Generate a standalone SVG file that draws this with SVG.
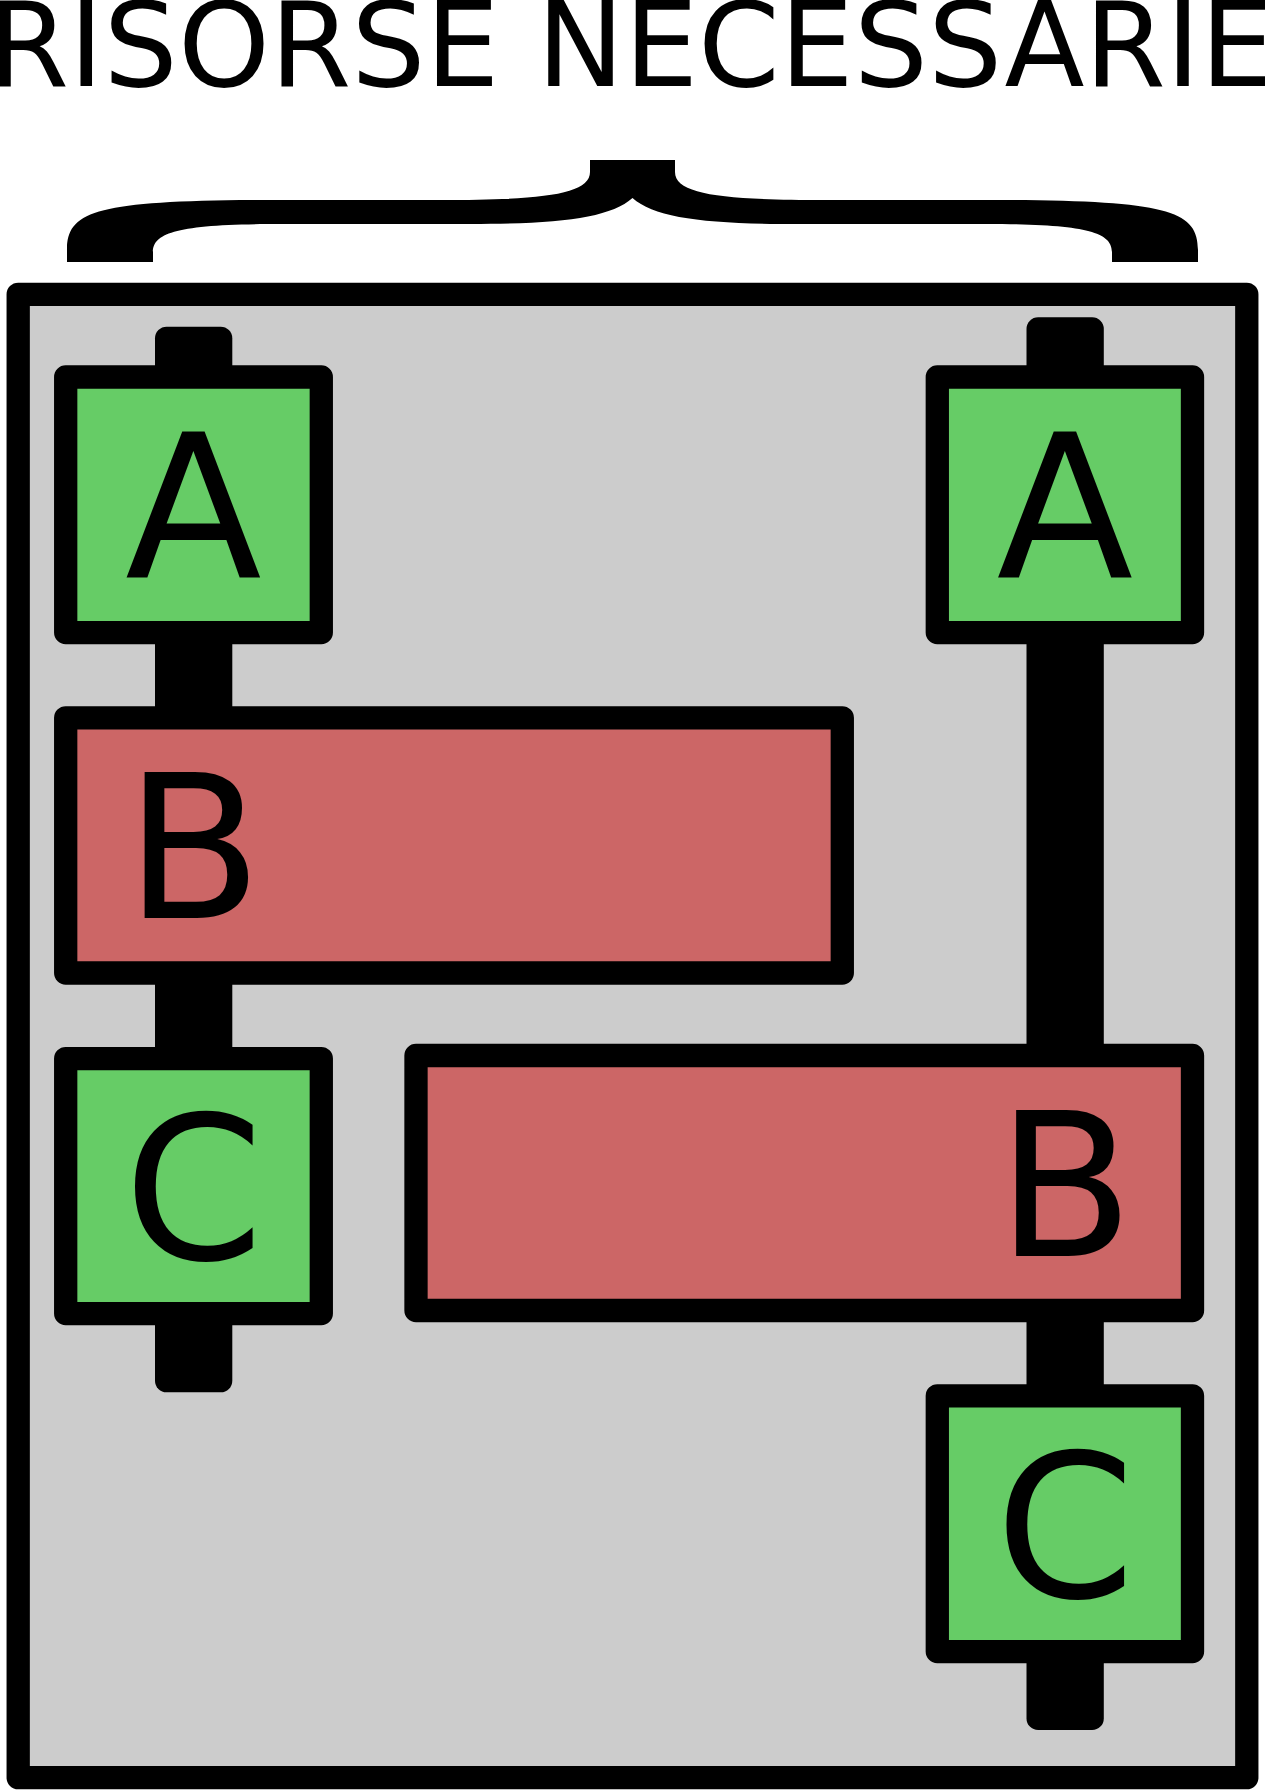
<svg xmlns="http://www.w3.org/2000/svg" width="1265" height="1790" viewBox="0 0 1265 1790">
  <style>
    .frame { fill: #cccccc; stroke: #000000; stroke-width: 23.3; stroke-linejoin: round; }
    .stem { fill: #000000; }
    .res { fill: #66cc66; stroke: #000000; stroke-width: 23.3; stroke-linejoin: round; }
    .bar { fill: #cc6666; stroke: #000000; stroke-width: 23.3; stroke-linejoin: round; }
    .lbl { font-family: "DejaVu Sans", "Liberation Sans", sans-serif; font-size: 200px; fill: #000000; text-anchor: middle; }
    .title { font-family: "DejaVu Sans", "Liberation Sans", sans-serif; font-size: 117px; fill: #000000; text-anchor: middle; }
  </style>
  <rect width="1265" height="1790" fill="#ffffff"/>
  <g id="title">
    <text class="title" x="631" y="86">RISORSE NECESSARIE</text>
  </g>
  <g id="brace">
    <path fill="#000000" d="M 67 262 L 67 250 C 67 212 95 202 240 200 L 440 200 C 540 200 590 195 590 172 L 590 160 L 675 160 L 675 172 C 675 195 725 200 825 200 L 1025 200 C 1170 202 1198 212 1198 250 L 1198 262 L 1112 262 L 1112 252 C 1112 232 1085 224 985 224 L 795 224 C 705 224 655 218 632.5 198 C 610 218 560 224 470 224 L 280 224 C 180 224 153 232 153 252 L 153 262 Z"/>
  </g>
  <g id="frame">
    <rect class="frame" x="18.2" y="294.3" width="1228.6" height="1483.4"/>
  </g>
  <g id="connectors">
    <rect class="stem" x="155" y="326.7" width="77.3" height="1065.6" rx="11.6"/>
    <rect class="stem" x="1026.5" y="317.3" width="77.3" height="1412.7" rx="11.6"/>
  </g>
  <g id="left-A">
    <rect class="res" x="65.7" y="377" width="255.6" height="255.6"/>
    <text class="lbl" x="193.5" y="577.4">A</text>
  </g>
  <g id="left-B">
    <rect class="bar" x="65.7" y="717.8" width="776.6" height="255.2"/>
    <text class="lbl" x="193.5" y="918.4">B</text>
  </g>
  <g id="left-C">
    <rect class="res" x="65.7" y="1058.6" width="255.6" height="255"/>
    <text class="lbl" x="193.5" y="1259">C</text>
  </g>
  <g id="right-A">
    <rect class="res" x="937.3" y="377" width="255.2" height="255.6"/>
    <text class="lbl" x="1065" y="577.4">A</text>
  </g>
  <g id="right-B">
    <rect class="bar" x="416" y="1055.5" width="776.5" height="255"/>
    <text class="lbl" x="1065" y="1256">B</text>
  </g>
  <g id="right-C">
    <rect class="res" x="937.3" y="1395.8" width="255.2" height="255.8"/>
    <text class="lbl" x="1065" y="1596.6">C</text>
  </g>
</svg>
